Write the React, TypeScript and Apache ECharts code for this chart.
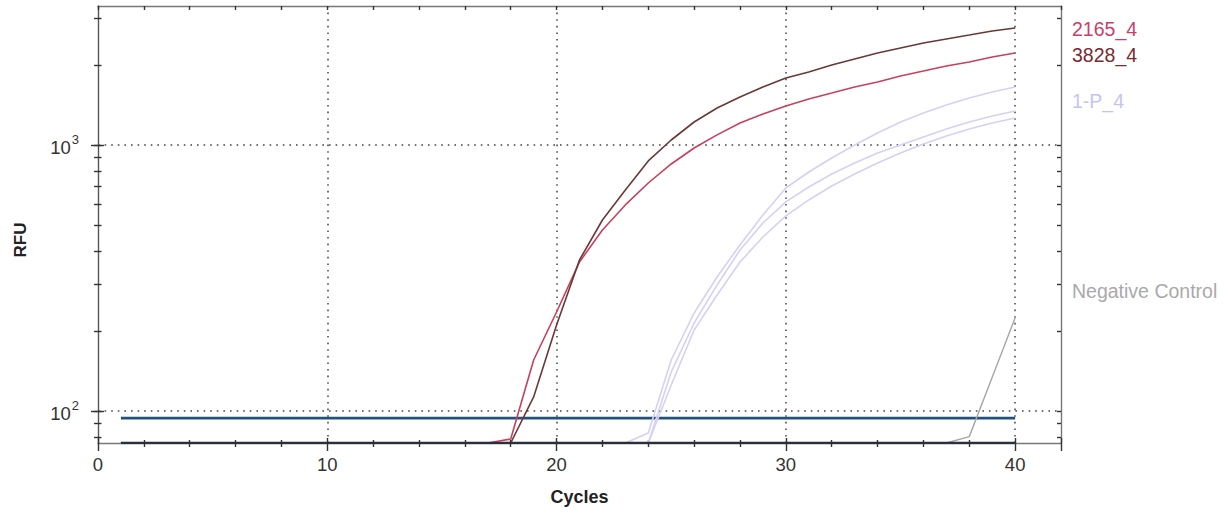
import React, { useEffect, useRef } from "react";
import * as echarts from "echarts";

const FONT = '"Liberation Sans", Arial, Helvetica, sans-serif';

// Axis ranges and ticks
const X_MIN = 0;
const X_MAX = 42;
const X_INTERVAL = 10;
const Y_MIN = 75.8;
const Y_MAX = 3330;
const Y_TICKS = [80, 90, 100, 200, 300, 400, 500, 600, 700, 800, 900, 1000, 2000, 3000];
const Y_MAJOR = [100, 1000];

const CYCLES = [
  1, 2, 3, 4, 5, 6, 7, 8, 9, 10, 11, 12, 13, 14, 15, 16, 17, 18, 19, 20,
  21, 22, 23, 24, 25, 26, 27, 28, 29, 30, 31, 32, 33, 34, 35, 36, 37, 38, 39, 40,
];

// RFU per cycle (values below the displayed range sit on the floor, 75.8)
const RFU_3828_4 = [
  75.8, 75.8, 75.8, 75.8, 75.8, 75.8, 75.8, 75.8, 75.8, 75.8, 75.8, 75.8, 75.8, 75.8, 75.8, 75.8, 75.8, 75.8,
  112.9, 210.6, 369.6, 522.4, 677.4, 870.8, 1044, 1220, 1377, 1515, 1652, 1786, 1881, 1999, 2105, 2218, 2316,
  2418, 2503, 2591, 2683, 2754,
];
const RFU_2165_4 = [
  75.8, 75.8, 75.8, 75.8, 75.8, 75.8, 75.8, 75.8, 75.8, 75.8, 75.8, 75.8, 75.8, 75.8, 75.8, 75.8, 75.8,
  78.5, 155.5, 235.6, 363.3, 479.2, 595.2, 719.6, 848.4, 974.3, 1091, 1210, 1308, 1402, 1489, 1568, 1652,
  1725, 1817, 1897, 1982, 2051, 2142, 2218,
];
const RFU_1P_4_A = [
  75.8, 75.8, 75.8, 75.8, 75.8, 75.8, 75.8, 75.8, 75.8, 75.8, 75.8, 75.8, 75.8, 75.8, 75.8, 75.8, 75.8, 75.8,
  75.8, 75.8, 75.8, 75.8, 75.8, 82.7, 155.5, 233.6, 319.0, 420.9, 545.7, 689.2, 791.5, 893.8, 1000, 1110,
  1220, 1320, 1414, 1502, 1582, 1652,
];
const RFU_1P_4_B = [
  75.8, 75.8, 75.8, 75.8, 75.8, 75.8, 75.8, 75.8, 75.8, 75.8, 75.8, 75.8, 75.8, 75.8, 75.8, 75.8, 75.8, 75.8,
  75.8, 75.8, 75.8, 75.8, 75.8, 75.8, 140.2, 214.2, 297.7, 402.9, 509.0, 610.8, 695.2, 778.0, 855.7, 933.0,
  1000, 1072, 1149, 1220, 1285, 1342,
];
const RFU_1P_4_C = [
  75.8, 75.8, 75.8, 75.8, 75.8, 75.8, 75.8, 75.8, 75.8, 75.8, 75.8, 75.8, 75.8, 75.8, 75.8, 75.8, 75.8, 75.8,
  75.8, 75.8, 75.8, 75.8, 75.8, 75.8, 125.2, 201.6, 273.0, 363.3, 451.0, 541.0, 621.4, 701.3, 778.0, 855.7,
  933.0, 1009, 1081, 1149, 1210, 1263,
];
const RFU_NEG = [
  75.8, 75.8, 75.8, 75.8, 75.8, 75.8, 75.8, 75.8, 75.8, 75.8, 75.8, 75.8, 75.8, 75.8, 75.8, 75.8, 75.8, 75.8,
  75.8, 75.8, 75.8, 75.8, 75.8, 75.8, 75.8, 75.8, 75.8, 75.8, 75.8, 75.8, 75.8, 75.8, 75.8, 75.8, 75.8, 75.8,
  75.8, 80.1, 134, 224,
];
// other wells, all below the displayed range
const RFU_FLOOR = [
  75.8, 75.8, 75.8, 75.8, 75.8, 75.8, 75.8, 75.8, 75.8, 75.8, 75.8, 75.8, 75.8, 75.8, 75.8, 75.8, 75.8, 75.8,
  75.8, 75.8, 75.8, 75.8, 75.8, 75.8, 75.8, 75.8, 75.8, 75.8, 75.8, 75.8, 75.8, 75.8, 75.8, 75.8, 75.8, 75.8,
  75.8, 75.8, 75.8, 75.8,
];
const THRESHOLD = 94;

const LABELS = [
  { text: "2165_4", color: "#c8406a", y: 29 },
  { text: "3828_4", color: "#7a2a30", y: 55 },
  { text: "1-P_4", color: "#c4c4f4", y: 101 },
  { text: "Negative Control", color: "#a9a9a9", y: 291 },
];

const TICK_STYLE = { color: "#333", width: 1.4 };
const FRAME_STYLE = { color: "#777", width: 1.4 };
const DOT_STYLE = { color: "#444", width: 1.5, type: [1.6, 5] as any };

function lineSeries(name: string, values: number[], color: string, width: number, z: number) {
  return {
    type: "line",
    name,
    xAxisIndex: 0,
    yAxisIndex: 0,
    data: CYCLES.map((c, i) => [c, values[i]]),
    showSymbol: false,
    symbol: "none",
    lineStyle: { color, width },
    itemStyle: { color },
    silent: true,
    z,
  };
}

export default function App() {
  const ref = useRef<HTMLDivElement>(null);
  useEffect(() => {
    if (!ref.current) return;
    const chart = echarts.init(ref.current, null, { renderer: "svg" });
    const logAxisBase = {
      type: "log",
      logBase: 10,
      min: Y_MIN,
      max: Y_MAX,
      gridIndex: 0,
      axisLine: { show: false },
      axisTick: { show: false },
      axisLabel: { show: false },
      splitLine: { show: false },
    };
    const xAxisBase = {
      type: "value",
      min: X_MIN,
      max: X_MAX,
      interval: X_INTERVAL,
      gridIndex: 0,
      axisLine: { show: false, onZero: false },
      axisTick: { show: false },
      axisLabel: { show: false },
      splitLine: { show: false },
    };
    const option: any = {
      animation: false,
      backgroundColor: "#ffffff",
      grid: { left: 98, right: 167, top: 6, bottom: 71, containLabel: false, outerBoundsMode: "none" },
      xAxis: [
        {
          ...xAxisBase,
          position: "bottom",
          axisLine: { show: true, onZero: false, lineStyle: FRAME_STYLE },
          axisTick: { show: true, inside: false, length: 8, lineStyle: TICK_STYLE },
          minorTick: { show: true, splitNumber: 5, length: 4, lineStyle: TICK_STYLE },
          axisLabel: { show: true, fontSize: 18.5, color: "#333", fontFamily: FONT, margin: 12, showMaxLabel: false },
          splitLine: { show: true, showMinLine: false, showMaxLine: false, lineStyle: DOT_STYLE },
          name: "Cycles",
          nameLocation: "middle",
          nameGap: 45,
          nameTextStyle: { fontSize: 18, fontWeight: "bold", color: "#222", fontFamily: FONT },
        },
        {
          ...xAxisBase,
          position: "bottom",
          axisTick: { show: true, inside: true, length: 5, lineStyle: TICK_STYLE },
          minorTick: { show: true, splitNumber: 5, length: 3, lineStyle: TICK_STYLE },
        },
        {
          ...xAxisBase,
          position: "top",
          axisLine: { show: true, onZero: false, lineStyle: FRAME_STYLE },
          axisTick: { show: true, inside: true, length: 4, lineStyle: TICK_STYLE },
          minorTick: { show: true, splitNumber: 5, length: 4, lineStyle: TICK_STYLE },
        },
      ],
      yAxis: [
        {
          ...logAxisBase,
          position: "left",
          axisLine: { show: true, onZero: false, lineStyle: { color: "#555", width: 1.4 } },
          axisTick: { show: true, inside: false, length: 4, customValues: Y_TICKS, lineStyle: TICK_STYLE },
          axisLabel: {
            show: true,
            customValues: Y_MAJOR,
            margin: 19,
            formatter: (v: number) => `{b|10}{e|${Math.round(Math.log10(v))}}`,
            rich: {
              b: { fontSize: 18.5, color: "#333", fontFamily: FONT, lineHeight: 24, verticalAlign: "bottom" },
              e: { fontSize: 13, color: "#333", fontFamily: FONT, lineHeight: 24, verticalAlign: "top", padding: [0, 0, 0, 1] },
            },
          },
        },
        {
          ...logAxisBase,
          position: "left",
          axisTick: { show: true, inside: false, length: 7, customValues: Y_MAJOR, lineStyle: TICK_STYLE },
        },
        {
          ...logAxisBase,
          position: "left",
          axisTick: { show: true, inside: true, length: 3.5, customValues: Y_TICKS, lineStyle: TICK_STYLE },
        },
        {
          ...logAxisBase,
          position: "left",
          axisTick: { show: true, inside: true, length: 6, customValues: Y_MAJOR, lineStyle: TICK_STYLE },
        },
        {
          ...logAxisBase,
          position: "right",
          axisLine: { show: true, onZero: false, lineStyle: FRAME_STYLE },
          axisTick: { show: true, inside: true, length: 4, customValues: Y_TICKS, lineStyle: TICK_STYLE },
        },
        {
          ...logAxisBase,
          position: "left",
          splitLine: { show: true, showMinLine: false, showMaxLine: false, lineStyle: DOT_STYLE },
        },
      ],
      series: [
        {
          type: "line",
          name: "Threshold",
          xAxisIndex: 0,
          yAxisIndex: 0,
          data: [
            [CYCLES[0], THRESHOLD],
            [CYCLES[CYCLES.length - 1], THRESHOLD],
          ],
          showSymbol: false,
          symbol: "none",
          lineStyle: { color: "#24507c", width: 2.6 },
          silent: true,
          z: 2,
        },
        lineSeries("1-P_4 A", RFU_1P_4_A, "#d4d2f2", 1.6, 3),
        lineSeries("1-P_4 B", RFU_1P_4_B, "#d4d2f2", 1.6, 3),
        lineSeries("1-P_4 C", RFU_1P_4_C, "#d4d2f2", 1.6, 3),
        lineSeries("Negative Control", RFU_NEG, "#a6a6a6", 1.4, 3),
        lineSeries("2165_4", RFU_2165_4, "#c8405c", 1.6, 4),
        lineSeries("3828_4", RFU_3828_4, "#6b3838", 1.6, 4),
        lineSeries("Floor", RFU_FLOOR, "#27303c", 2.4, 5),
      ],
      graphic: [
        {
          type: "text",
          x: 20,
          y: 240,
          rotation: Math.PI / 2,
          style: {
            text: "RFU",
            fontSize: 17,
            fontWeight: "bold",
            fill: "#222",
            fontFamily: FONT,
            textAlign: "center",
            textVerticalAlign: "middle",
          },
        },
        ...LABELS.map((l) => ({
          type: "text",
          x: 1072,
          y: l.y,
          style: {
            text: l.text,
            fontSize: 19.5,
            fill: l.color,
            fontFamily: FONT,
            textAlign: "left",
            textVerticalAlign: "middle",
          },
        })),
      ],
    };
    chart.setOption(option);
    return () => chart.dispose();
  }, []);
  return (
    <div
      ref={ref}
      style={{ position: "absolute", left: 0, top: 0, width: 1228, height: 514, background: "#fff" }}
    />
  );
}
